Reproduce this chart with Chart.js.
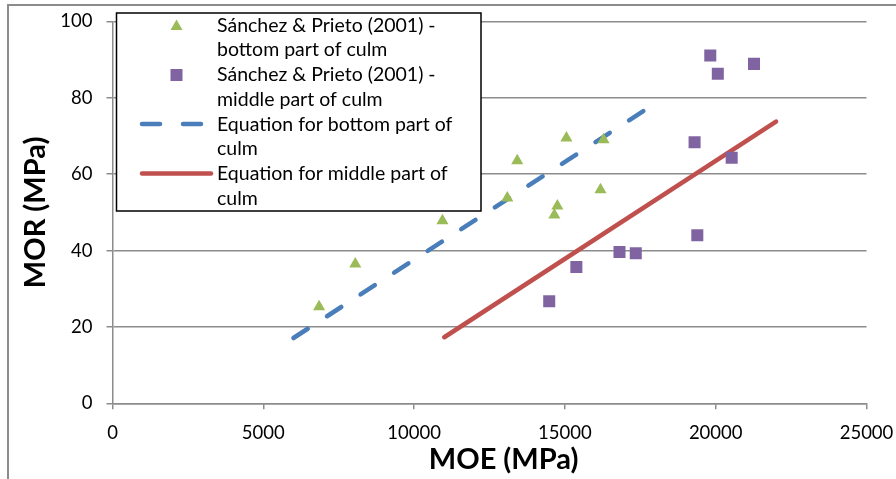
<!DOCTYPE html>
<html>
<head>
<meta charset="utf-8">
<title>MOR vs MOE</title>
<script src="https://cdn.jsdelivr.net/npm/chart.js@4.4.1/dist/chart.umd.min.js"></script>
<style>
  html, body { margin: 0; padding: 0; background: #fff; overflow: hidden; }
  #wrap { position: relative; width: 896px; height: 479px; }
  #frame {
    position: absolute; left: 7px; top: 4px; width: 1000px; height: 1000px;
    border-left: 2px solid #8c8c8c; border-top: 2px solid #8c8c8c;
    pointer-events: none;
  }
  canvas { position: absolute; left: 0; top: 0; }
</style>
</head>
<body>
<div id="wrap">
  <div id="frame"></div>
  <canvas id="chart" width="896" height="479"></canvas>
</div>
<script>
// Sánchez & Prieto (2001) - bottom part of culm
const bottomMOE = [6850, 8050, 10940, 13090, 13420, 15050, 16280, 14750, 14650, 16180];
const bottomMOR = [25.3, 36.5, 47.8, 53.8, 63.5, 69.5, 69.0, 51.7, 49.3, 55.9];

// Sánchez & Prieto (2001) - middle part of culm
const middleMOE = [14480, 15380, 16810, 17350, 19390, 19300, 20530, 19820, 20070, 21270];
const middleMOR = [26.7, 35.7, 39.6, 39.3, 44.0, 68.4, 64.3, 91.1, 86.3, 88.9];

// fitted equations (end points)
const bottomFitMOE = [6000, 17650];
const bottomFitMOR = [17.1, 76.8];
const middleFitMOE = [11000, 22000];
const middleFitMOR = [17.3, 73.8];

const xTicks = [0, 5000, 10000, 15000, 20000, 25000];
const yTicks = [0, 20, 40, 60, 80, 100];

const legendLabels = [
  ["Sánchez & Prieto (2001) -", "bottom part of culm"],
  ["Sánchez & Prieto (2001) -", "middle part of culm"],
  ["Equation for bottom part of", "culm"],
  ["Equation for middle part of", "culm"]
];

const GREEN = "#9bbb59";
const PURPLE = "#8064a2";
const BLUE = "#4a7ebb";
const RED = "#c0504d";
const GRID = "#8c8c8c";

function toPoints(xs, ys) {
  return xs.map((x, i) => ({ x: x, y: ys[i] }));
}

// legend drawn inside the plot, top-left, like the original
const boxLegend = {
  id: "boxLegend",
  afterDatasetsDraw(chart) {
    const c = chart.ctx;
    const bx = 116.5, by = 13, bw = 364.5, bh = 198;
    c.save();
    c.fillStyle = "#fff";
    c.fillRect(bx, by, bw, bh);
    c.strokeStyle = "#000";
    c.lineWidth = 1.5;
    c.strokeRect(bx, by, bw, bh);

    c.font = "19.5px Lato";
    c.fillStyle = "#000";
    c.textBaseline = "middle";
    const lh = 24.7;
    let y = 25.5;
    legendLabels.forEach(lines => {
      lines.forEach((t, j) => c.fillText(t, 217, y + j * lh));
      y += lh * 2;
    });

    // triangle
    c.fillStyle = GREEN;
    c.beginPath();
    c.moveTo(176.5, 19.5);
    c.lineTo(182.5, 30);
    c.lineTo(170.5, 30);
    c.closePath();
    c.fill();
    // square
    c.fillStyle = PURPLE;
    c.fillRect(170.5, 69, 12, 12);
    // dashed blue
    c.lineCap = "round";
    c.lineWidth = 4.5;
    c.strokeStyle = BLUE;
    c.beginPath();
    c.moveTo(142, 124); c.lineTo(160, 124);
    c.moveTo(183, 124); c.lineTo(201, 124);
    c.stroke();
    // solid red
    c.strokeStyle = RED;
    c.beginPath();
    c.moveTo(142, 173.5); c.lineTo(211, 173.5);
    c.stroke();
    c.restore();
  }
};

const ctx = document.getElementById("chart").getContext("2d");

new Chart(ctx, {
  type: "scatter",
  data: {
    datasets: [
      {
        label: legendLabels[0].join(" "),
        data: toPoints(bottomMOE, bottomMOR),
        pointStyle: "triangle",
        pointRadius: 7,
        pointBorderWidth: 0,
        backgroundColor: GREEN,
        borderColor: GREEN,
        order: 1
      },
      {
        label: legendLabels[1].join(" "),
        data: toPoints(middleMOE, middleMOR),
        pointStyle: "rect",
        pointRadius: 8.5,
        pointBorderWidth: 0,
        backgroundColor: PURPLE,
        borderColor: PURPLE,
        order: 1
      },
      {
        type: "line",
        label: legendLabels[2].join(" "),
        data: toPoints(bottomFitMOE, bottomFitMOR),
        borderColor: BLUE,
        borderWidth: 4.5,
        borderDash: [17, 23],
        borderCapStyle: "round",
        pointRadius: 0,
        fill: false,
        order: 2
      },
      {
        type: "line",
        label: legendLabels[3].join(" "),
        data: toPoints(middleFitMOE, middleFitMOR),
        borderColor: RED,
        borderWidth: 4.5,
        borderCapStyle: "round",
        pointRadius: 0,
        fill: false,
        order: 2
      }
    ]
  },
  options: {
    responsive: false,
    animation: false,
    layout: { padding: { top: 21.5, right: 29.5, bottom: 0, left: 0 } },
    plugins: {
      legend: { display: false },
      tooltip: { enabled: false }
    },
    scales: {
      x: {
        type: "linear",
        min: 0,
        max: 25000,
        afterBuildTicks: s => { s.ticks = xTicks.map(v => ({ value: v })); },
        afterFit: s => { s.height = 75.7; s.paddingLeft = 0; s.paddingRight = 0; },
        grid: { drawOnChartArea: false, drawTicks: true, tickLength: 6, color: GRID, lineWidth: 1.5 },
        border: { color: GRID, width: 1.5 },
        ticks: {
          color: "#000", font: { family: "Lato", size: 18.5 }, padding: 13, maxRotation: 0,
          callback: v => String(v)
        },
        title: {
          display: true,
          text: "    MOE (MPa)",
          color: "#000",
          font: { family: "Lato", size: 29, weight: "bold" },
          padding: { top: 0, bottom: 2 }
        }
      },
      y: {
        type: "linear",
        min: 0,
        max: 100,
        afterBuildTicks: s => { s.ticks = yTicks.map(v => ({ value: v })); },
        afterFit: s => { s.width = 112.5; s.paddingTop = 0; s.paddingBottom = 0; },
        grid: { drawTicks: true, tickLength: 6, color: GRID, lineWidth: 1.5 },
        border: { color: GRID, width: 1.5 },
        ticks: { color: "#000", font: { family: "Lato", size: 18.5 }, padding: 14 },
        title: {
          display: true,
          text: "MOR (MPa)",
          color: "#000",
          font: { family: "Lato", size: 29, weight: "bold" },
          padding: { top: 18, bottom: 0 }
        }
      }
    }
  },
  plugins: [boxLegend]
});
</script>
</body>
</html>
